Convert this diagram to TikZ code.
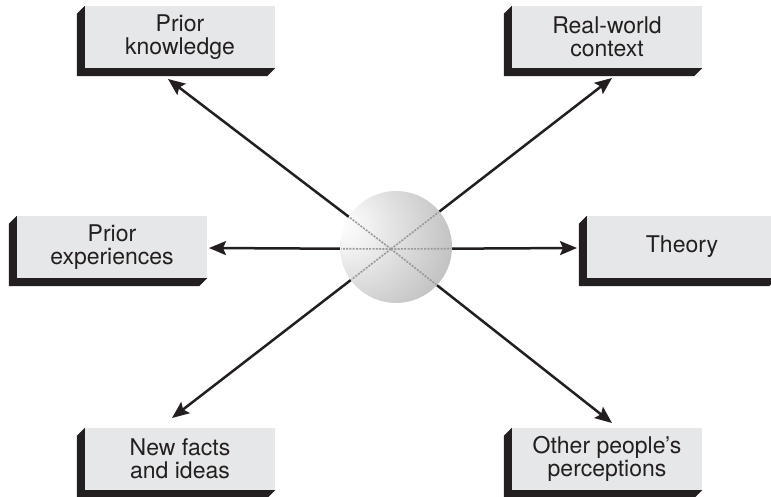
\documentclass[tikz,border=0pt]{standalone}
\usepackage{fontspec}
\setmainfont{TeX Gyre Heros}
\usetikzlibrary{arrows.meta}
\definecolor{boxfill}{HTML}{E6E7E8}
\definecolor{ink}{HTML}{231F20}
% soft ball with its highlight up and to the left
\pgfdeclareradialshading{sphereshade}{\pgfpoint{-26bp}{10bp}}{%
  color(0bp)=(white); color(10bp)=(white!95!black); color(38bp)=(white!78!black);
  color(66bp)=(white!62!black); color(100bp)=(white!55!black)}
\begin{document}
\begin{tikzpicture}[x=1pt,y=-1pt,
  topic/.style={fill=boxfill, text=ink, minimum width=190pt, minimum height=62pt,
    inner sep=0pt, align=center, font=\fontsize{23}{22.5}\selectfont},
  extrude/.style={fill=ink},
  link/.style={draw=ink, line width=2.5pt, -{Stealth[length=17pt,width=14pt,inset=3pt]}},
  groove/.style={draw=black!40, line width=1.6pt, dash pattern=on 2pt off 1.3pt}]
\useasboundingbox (0,0) rectangle (771,497);

% topic boxes
\node[topic] (pk) at (180,37)  {Prior\\knowledge};
\node[topic] (rw) at (607,37)  {Real-world\\context};
\node[topic] (pe) at (112,247) {Prior\\experiences};
\node[topic] (th) at (682,247) {Theory};
\node[topic] (nf) at (180,459) {New facts\\and ideas};
\node[topic] (op) at (607,459) {Other people’s\\perceptions};

% dark extruded edge on the left and bottom of each box
\foreach \b in {pk,rw,pe,th,nf,op}
  \fill[extrude] (\b.north west) -- ++(-8pt,-8pt)
    |- ([shift={(-8pt,-8pt)}]\b.south east) -- (\b.south east)
    -- (\b.south west) -- cycle;

% hub and arrow end points
\coordinate (hub) at (391,249);
\coordinate (tpk) at (168,79);
\coordinate (trw) at (612,78);
\coordinate (tpe) at (209,248);
\coordinate (tth) at (577,248);
\coordinate (tnf) at (172,418);
\coordinate (top) at (612,423);

% spokes
\foreach \t in {tpk,trw,tpe,tth,tnf,top}
  \draw[link] (hub) -- (\t);

% sphere over the spokes
\node[circle, minimum size=112pt, inner sep=0pt, shading=sphereshade] (ball) at (396,247) {};

% faint grooves where the spokes cross the sphere
\begin{scope}
  \clip (ball.center) circle (55pt);
  \foreach \t in {tpk,trw,tpe,tth,tnf,top}
    \draw[groove] (hub) -- (\t);
\end{scope}
\end{tikzpicture}
\end{document}
